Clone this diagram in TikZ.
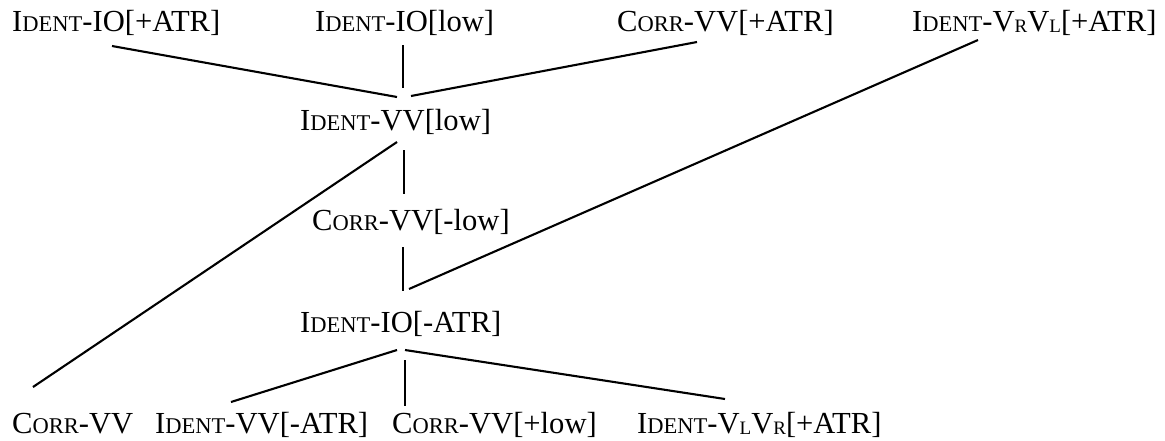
\documentclass[tikz,border=0pt]{standalone}
\usepackage{fontspec}
\setmainfont{Liberation Serif}
\newcommand\smc[1]{{\fontsize{22.5}{26}\selectfont #1}}
\newcommand\subs[1]{\raisebox{-1.5pt}{\fontsize{19}{21}\selectfont #1}}
\begin{document}
\begin{tikzpicture}[x=1pt,y=-1pt,
  lbl/.style={anchor=base west,inner sep=0pt,font=\fontsize{30.6}{36}\selectfont},
  conn/.style={line width=2.1pt}]
\useasboundingbox (0,0) rectangle (1165,440);
% top row
\node[lbl] (ioatr) at (12,31) {I\smc{DENT}-IO[+ATR]};
\node[lbl] (iolow) at (315,31) {I\smc{DENT}-IO[low]};
\node[lbl] (corratr) at (617,31) {C\smc{ORR}-VV[+ATR]};
\node[lbl] (vrvl) at (912,31) {I\smc{DENT}-V\subs{R}V\subs{L}[+ATR]};
% middle
\node[lbl] (vvlow) at (300,130) {I\smc{DENT}-VV[low]};
\node[lbl] (corrlow) at (312,230) {C\smc{ORR}-VV[-low]};
\node[lbl] (ioneg) at (300,332) {I\smc{DENT}-IO[-ATR]};
% bottom row
\node[lbl] (corr) at (12,433) {C\smc{ORR}-VV};
\node[lbl] (vvneg) at (155,433) {I\smc{DENT}-VV[-ATR]};
\node[lbl] (corrplus) at (392,433) {C\smc{ORR}-VV[+low]};
\node[lbl] (vlvr) at (637,433) {I\smc{DENT}-V\subs{L}V\subs{R}[+ATR]};
% connector end points
\coordinate (ioatr-e) at (112,46);
\coordinate (vvlow-a) at (397,97);
\coordinate (iolow-e) at (403,45);
\coordinate (vvlow-b) at (403,88);
\coordinate (corratr-e) at (697,42);
\coordinate (vvlow-c) at (411,96);
\coordinate (vvlow-d) at (397,142);
\coordinate (corr-e) at (33,387);
\coordinate (vvlow-f) at (404,150);
\coordinate (corrlow-t) at (404,194);
\coordinate (corrlow-b) at (403,247);
\coordinate (ioneg-t) at (403,291);
\coordinate (vrvl-e) at (978,40);
\coordinate (ioneg-r) at (409,289);
\coordinate (ioneg-a) at (397,350);
\coordinate (vvneg-e) at (231,402);
\coordinate (ioneg-b) at (405,360);
\coordinate (corrplus-e) at (405,406);
\coordinate (ioneg-c) at (405,350);
\coordinate (vlvr-e) at (725,399);
\draw[conn] (ioatr-e) -- (vvlow-a);
\draw[conn] (iolow-e) -- (vvlow-b);
\draw[conn] (corratr-e) -- (vvlow-c);
\draw[conn] (vvlow-d) -- (corr-e);
\draw[conn] (vvlow-f) -- (corrlow-t);
\draw[conn] (corrlow-b) -- (ioneg-t);
\draw[conn] (vrvl-e) -- (ioneg-r);
\draw[conn] (ioneg-a) -- (vvneg-e);
\draw[conn] (ioneg-b) -- (corrplus-e);
\draw[conn] (ioneg-c) -- (vlvr-e);
\end{tikzpicture}
\end{document}
